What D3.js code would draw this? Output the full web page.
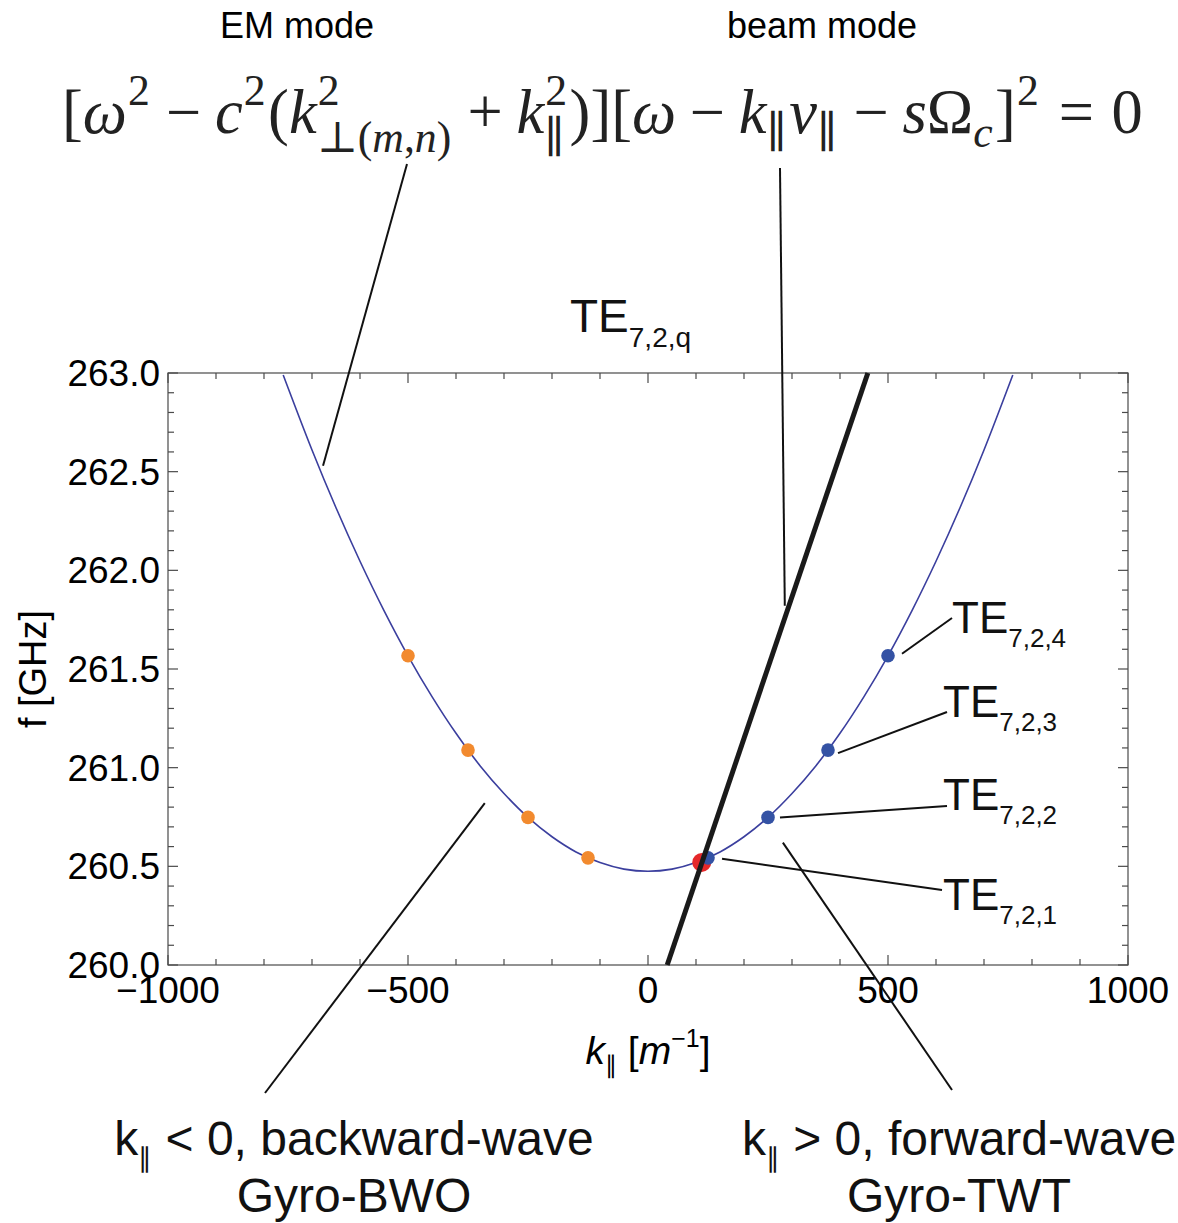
<!DOCTYPE html>
<html>
<head>
<meta charset="utf-8">
<script src="https://cdn.jsdelivr.net/npm/d3@7"></script>
<style>
  html, body { margin: 0; padding: 0; background: #fff; }
  svg { display: block; }
</style>
</head>
<body>
<svg id="chart" width="1178" height="1223"></svg>
<script>
// Dispersion curve of the TE(7,2) mode: axial wavenumber k|| [1/m] vs frequency [GHz]
const emK = [-760, -700, -650, -600, -550, -500, -450, -400, -350, -300, -250, -200, -150, -100, -50,
             0, 50, 100, 150, 200, 250, 300, 350, 400, 450, 500, 550, 600, 650, 700, 760];
const emF = [262.99, 262.61, 262.317, 262.046, 261.796, 261.567, 261.36, 261.174, 261.01, 260.869, 260.748,
             260.65, 260.573, 260.519, 260.486, 260.475, 260.486, 260.519, 260.573, 260.65, 260.748,
             260.869, 261.01, 261.174, 261.36, 261.567, 261.796, 262.046, 262.317, 262.61, 262.99];

// Axial modes q = 1..4 on the backward (k<0) and forward (k>0) branches
const backwardK = [-500, -375, -250, -125];
const backwardF = [261.567, 261.089, 260.748, 260.543];
const forwardK = [125, 250, 375, 500];
const forwardF = [260.543, 260.748, 261.089, 261.567];
const forwardLabels = ["7,2,1", "7,2,2", "7,2,3", "7,2,4"];

// Beam-wave resonance and its intersection with the waveguide mode
const beamK = [40, 458];
const beamF = [260.0, 263.0];
const crossK = [112];
const crossF = [260.52];

// Axis ticks
const xMajor = [-1000, -500, 0, 500, 1000];
const xMinor = d3.range(-1000, 1001, 100);
const yMajor = [260.0, 260.5, 261.0, 261.5, 262.0, 262.5, 263.0];
const yMinor = d3.range(0, 31).map(i => 260 + i * 0.1);

const SANS = "'Liberation Sans', Arial, Helvetica, sans-serif";
const SERIF = "'Liberation Serif', 'DejaVu Serif', serif";

const svg = d3.select("#chart");
const x = d3.scaleLinear().domain([-1000, 1000]).range([168, 1128]);
const y = d3.scaleLinear().domain([260, 263]).range([965, 373]);

const plot = svg.append("g");

// ---- frame with inward ticks on all four sides ----
const frame = plot.append("g").attr("stroke", "#4a4a4a").attr("stroke-width", 1.2).attr("fill", "none");
frame.append("rect").attr("x", x(-1000)).attr("y", y(263))
  .attr("width", x(1000) - x(-1000)).attr("height", y(260) - y(263));

const isMajX = v => xMajor.some(m => Math.abs(m - v) < 1e-6);
const isMajY = v => yMajor.some(m => Math.abs(m - v) < 1e-6);
xMinor.forEach(v => {
  const len = isMajX(v) ? 10 : 6;
  frame.append("line").attr("x1", x(v)).attr("x2", x(v)).attr("y1", y(260)).attr("y2", y(260) - len);
  frame.append("line").attr("x1", x(v)).attr("x2", x(v)).attr("y1", y(263)).attr("y2", y(263) + len);
});
yMinor.forEach(v => {
  const len = isMajY(v) ? 10 : 6;
  frame.append("line").attr("y1", y(v)).attr("y2", y(v)).attr("x1", x(-1000)).attr("x2", x(-1000) + len);
  frame.append("line").attr("y1", y(v)).attr("y2", y(v)).attr("x1", x(1000)).attr("x2", x(1000) - len);
});

// tick labels
plot.append("g").selectAll("text").data(xMajor).join("text")
  .attr("x", d => x(d)).attr("y", 1003)
  .attr("text-anchor", "middle")
  .attr("font-family", SANS).attr("font-size", 37).attr("fill", "#000")
  .text(d => d < 0 ? "\u2212" + Math.abs(d) : String(d));
plot.append("g").selectAll("text").data(yMajor).join("text")
  .attr("x", 160).attr("y", d => y(d)).attr("dy", "0.35em")
  .attr("text-anchor", "end")
  .attr("font-family", SANS).attr("font-size", 37).attr("fill", "#000")
  .text(d => d.toFixed(1));

// axis titles
svg.append("text")
  .attr("transform", "translate(46," + ((y(260) + y(263)) / 2) + ") rotate(-90)")
  .attr("text-anchor", "middle")
  .attr("font-family", SANS).attr("font-size", 38)
  .text("f [GHz]");

const xt = svg.append("text").attr("x", x(0)).attr("y", 1064)
  .attr("text-anchor", "middle").attr("font-family", SANS).attr("font-size", 39);
xt.append("tspan").attr("font-style", "italic").text("k");
xt.append("tspan").attr("font-size", 24).attr("dy", 9).text("\u2225");
xt.append("tspan").attr("dy", -9).text(" [");
xt.append("tspan").attr("font-style", "italic").text("m");
xt.append("tspan").attr("font-size", 25).attr("dy", -17).text("\u22121");
xt.append("tspan").attr("dy", 17).text("]");

// ---- data marks ----
const emPts = emK.map((k, i) => [k, emF[i]]);
plot.append("path")
  .attr("d", d3.line().x(d => x(d[0])).y(d => y(d[1])).curve(d3.curveCatmullRom.alpha(0.5))(emPts))
  .attr("fill", "none").attr("stroke", "#3b3f9e").attr("stroke-width", 1.6);

plot.append("g").selectAll("circle").data(backwardK.map((k, i) => [k, backwardF[i]])).join("circle")
  .attr("cx", d => x(d[0])).attr("cy", d => y(d[1])).attr("r", 6.8).attr("fill", "#f28a2e");

plot.append("g").selectAll("circle").data(crossK.map((k, i) => [k, crossF[i]])).join("circle")
  .attr("cx", d => x(d[0])).attr("cy", d => y(d[1])).attr("r", 9.5).attr("fill", "#e5282a");

plot.append("g").selectAll("circle").data(forwardK.map((k, i) => [k, forwardF[i]])).join("circle")
  .attr("cx", d => x(d[0])).attr("cy", d => y(d[1])).attr("r", 6.8).attr("fill", "#3452a4");

plot.append("line")
  .attr("x1", x(beamK[0])).attr("y1", y(beamF[0]))
  .attr("x2", x(beamK[1])).attr("y2", y(beamF[1]))
  .attr("stroke", "#1a1a1a").attr("stroke-width", 5);

// ---- annotations ----
const ann = svg.append("g").attr("stroke", "#111").attr("stroke-width", 2).attr("fill", "none");
const lead = (x1, y1, x2, y2) => ann.append("line").attr("x1", x1).attr("y1", y1).attr("x2", x2).attr("y2", y2);

// equation -> curve / beam line
lead(407, 164, x(-677), y(262.53));
lead(780, 168, x(285), y(261.82));
// regime descriptions -> branches
lead(x(-340), y(260.82), 265, 1093);
lead(x(281), y(260.62), 952, 1090);

// mode labels on the forward branch
const teLabelPos = [[943, 910], [943, 810], [943, 717], [952, 633]];
const teLeadEnd = [[942, 890], [947, 806], [947, 712], [952, 618]];
const teLeadStart = [[14, 1], [12, 0], [10, 3], [14, -2]];
forwardK.forEach((k, i) => {
  const px = x(k), py = y(forwardF[i]);
  lead(px + teLeadStart[i][0], py + teLeadStart[i][1], teLeadEnd[i][0], teLeadEnd[i][1]);
});

function teLabel(xp, yp, sub, big, small) {
  const t = svg.append("text").attr("x", xp).attr("y", yp)
    .attr("font-family", SANS).attr("font-size", big).attr("fill", "#111");
  t.append("tspan").text("TE");
  t.append("tspan").attr("font-size", small).attr("dy", Math.round(big * 0.32)).text(sub);
}
forwardLabels.forEach((s, i) => teLabel(teLabelPos[i][0], teLabelPos[i][1], s, 44, 26));
teLabel(570, 332, "7,2,q", 46, 28);

// top captions
svg.append("text").attr("x", 297).attr("y", 38).attr("text-anchor", "middle")
  .attr("font-family", SANS).attr("font-size", 36).text("EM mode");
svg.append("text").attr("x", 822).attr("y", 38).attr("text-anchor", "middle")
  .attr("font-family", SANS).attr("font-size", 36).text("beam mode");

// bottom captions
function regime(cx, y1, rel, rest, line2) {
  const t = svg.append("text").attr("x", cx).attr("y", y1).attr("text-anchor", "middle")
    .attr("font-family", SANS).attr("font-size", 48).attr("fill", "#111");
  t.append("tspan").text("k");
  t.append("tspan").attr("font-size", 27).attr("dy", 12).text("\u2225");
  t.append("tspan").attr("dy", -12).text(" " + rel + " 0, " + rest);
  svg.append("text").attr("x", cx).attr("y", y1 + 57).attr("text-anchor", "middle")
    .attr("font-family", SANS).attr("font-size", 48).attr("fill", "#111").text(line2);
}
regime(354, 1155, "<", "backward-wave", "Gyro-BWO");
regime(959, 1155, ">", "forward-wave", "Gyro-TWT");

// ---- dispersion relation typeset with measured runs ----
const eqTokens = [
  {t: "["}, {t: "\u03c9", it: 1}, {sup: "2"}, {t: "\u2212", op: 1}, {t: "c", it: 1}, {sup: "2"},
  {t: "("}, {t: "k", it: 1},
  {sup: "2", sub: [{t: "\u22a5"}, {t: "("}, {t: "m", it: 1}, {t: ","}, {t: "n", it: 1}, {t: ")"}]},
  {t: "+", op: 1}, {t: "k", it: 1}, {sup: "2", sub: [{t: "\u2225"}]}, {t: ")"}, {t: "]"},
  {t: "["}, {t: "\u03c9", it: 1}, {t: "\u2212", op: 1}, {t: "k", it: 1}, {sub: [{t: "\u2225"}]},
  {t: "v", it: 1}, {sub: [{t: "\u2225"}]}, {t: "\u2212", op: 1}, {t: "s", it: 1}, {t: "\u03a9"},
  {sub: [{t: "c", it: 1}]}, {t: "]"}, {sup: "2"}, {t: "=", rel: 1}, {t: "0"}
];

function typeset(g, tokens, x0, base, S) {
  let cx = x0;
  const put = (txt, xx, yy, size, it) => {
    const el = g.append("text").attr("x", xx).attr("y", yy)
      .attr("font-family", SERIF).attr("font-size", size).attr("fill", "#222")
      .attr("font-style", it ? "italic" : "normal").text(txt);
    return el.node().getComputedTextLength();
  };
  tokens.forEach(tk => {
    if (tk.sup !== undefined || tk.sub !== undefined) {
      let wSup = 0, wSub = 0;
      if (tk.sup !== undefined) wSup = put(tk.sup, cx + 1, base - 0.45 * S, 0.7 * S, false);
      if (tk.sub !== undefined) {
        let sx = cx;
        const dy = tk.sup !== undefined ? 0.3 * S : 0.22 * S;
        tk.sub.forEach(p => { sx += put(p.t, sx, base + dy, 0.7 * S, p.it); });
        wSub = sx - cx;
      }
      cx += Math.max(wSup + 1, wSub) + 0.04 * S;
    } else {
      const pad = tk.op ? 0.22 * S : tk.rel ? 0.28 * S : 0;
      cx += pad;
      cx += put(tk.t, cx, base, S, tk.it);
      cx += pad;
    }
  });
  return cx - x0;
}

const eqG = svg.append("g");
const trial = typeset(eqG, eqTokens, 62, 133, 60);
eqG.selectAll("*").remove();
typeset(eqG, eqTokens, 62, 133, 60 * 1081 / trial);
</script>
</body>
</html>
